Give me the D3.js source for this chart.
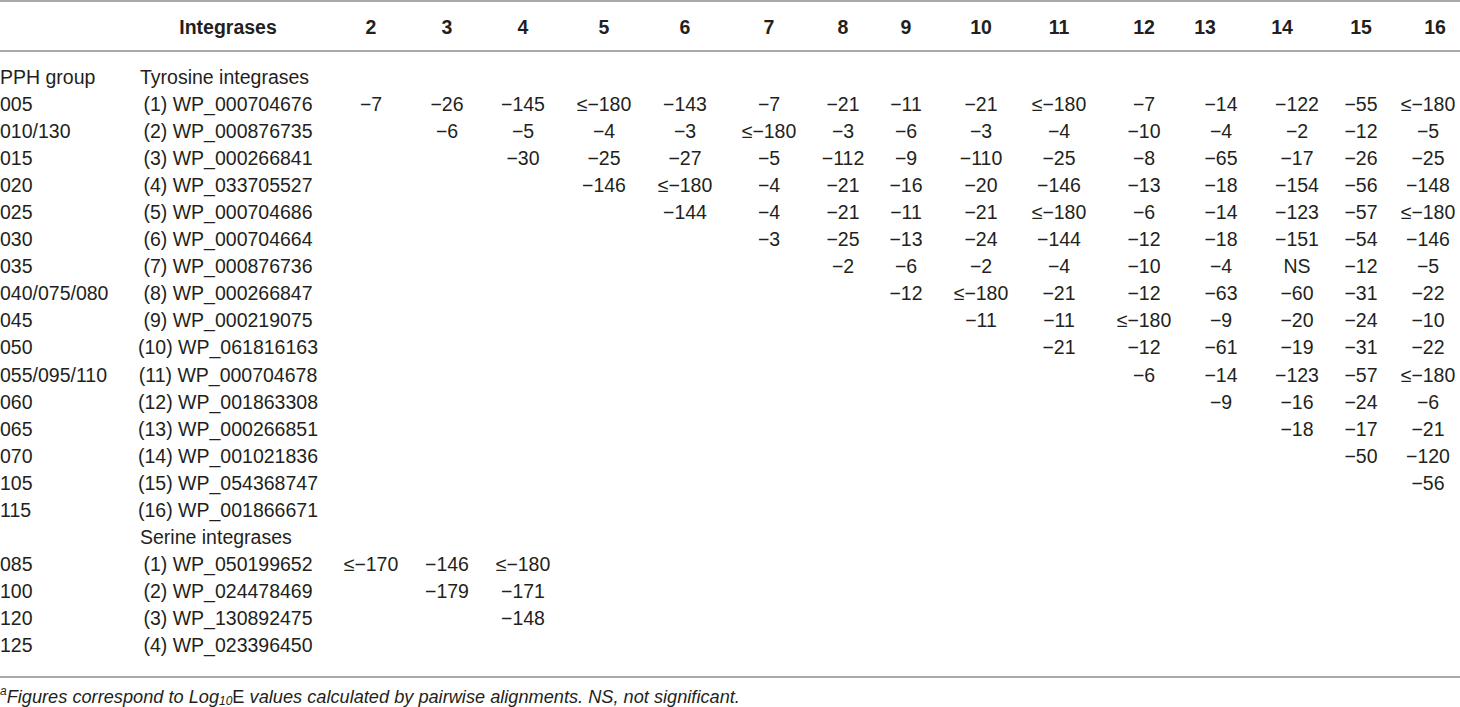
<!DOCTYPE html>
<html>
<head>
<meta charset="utf-8">
<script src="https://cdn.jsdelivr.net/npm/d3@7"></script>
<style>
  html, body { margin: 0; padding: 0; background: #fff; }
  svg { display: block; }
  text { font-family: "Liberation Sans", Arial, sans-serif; fill: #231f20; }
</style>
</head>
<body>
<div id="chart"></div>
<script>
// ---------- DATA ----------
const columnLabels = ["2","3","4","5","6","7","8","9","10","11","12","13","14","15","16"];

const tyrosineGroups = ["005","010/130","015","020","025","030","035","040/075/080","045","050","055/095/110","060","065","070","105","115"];
const tyrosineNames = ["(1) WP_000704676","(2) WP_000876735","(3) WP_000266841","(4) WP_033705527","(5) WP_000704686","(6) WP_000704664","(7) WP_000876736","(8) WP_000266847","(9) WP_000219075","(10) WP_061816163","(11) WP_000704678","(12) WP_001863308","(13) WP_000266851","(14) WP_001021836","(15) WP_054368747","(16) WP_001866671"];
// values for row i start at column (i+2)
const tyrosineValues = [
  [-7,-26,-145,"≤−180",-143,-7,-21,-11,-21,"≤−180",-7,-14,-122,-55,"≤−180"],
  [-6,-5,-4,-3,"≤−180",-3,-6,-3,-4,-10,-4,-2,-12,-5],
  [-30,-25,-27,-5,-112,-9,-110,-25,-8,-65,-17,-26,-25],
  [-146,"≤−180",-4,-21,-16,-20,-146,-13,-18,-154,-56,-148],
  [-144,-4,-21,-11,-21,"≤−180",-6,-14,-123,-57,"≤−180"],
  [-3,-25,-13,-24,-144,-12,-18,-151,-54,-146],
  [-2,-6,-2,-4,-10,-4,"NS",-12,-5],
  [-12,"≤−180",-21,-12,-63,-60,-31,-22],
  [-11,-11,"≤−180",-9,-20,-24,-10],
  [-21,-12,-61,-19,-31,-22],
  [-6,-14,-123,-57,"≤−180"],
  [-9,-16,-24,-6],
  [-18,-17,-21],
  [-50,-120],
  [-56],
  []
];

const serineGroups = ["085","100","120","125"];
const serineNames = ["(1) WP_050199652","(2) WP_024478469","(3) WP_130892475","(4) WP_023396450"];
const serineValues = [
  ["≤−170",-146,"≤−180"],
  [-179,-171],
  [-148],
  []
];

// ---------- LAYOUT ----------
const W = 1460, H = 707;
const valueCenters  = [371,447,523,604,685,769,843,906,981,1059,1144,1221,1297,1361,1428];
const headerCenters = [371,447,523,604,685,769,843,906,981,1059,1144,1205,1282,1361,1435];
const fontSize = 19.5;

// Build the row list
const rows = [];
rows.push({id:"h-tyr", group:"PPH group", name:"Tyrosine integrases", label:true, values:[], start:0});
tyrosineGroups.forEach((g,i)=>rows.push({id:"t"+i, group:g, name:tyrosineNames[i], values:tyrosineValues[i], start:i}));
rows.push({id:"h-ser", group:"", name:"Serine integrases", label:true, values:[], start:0});
serineGroups.forEach((g,i)=>rows.push({id:"s"+i, group:g, name:serineNames[i], values:serineValues[i], start:i}));

const y = d3.scalePoint().domain(rows.map(r=>r.id)).range([77, 645]);
const xVal = d3.scaleOrdinal().domain(columnLabels).range(valueCenters);
const xHead = d3.scaleOrdinal().domain(columnLabels).range(headerCenters);
const fmt = d3.format("d");

const svg = d3.select("#chart").append("svg").attr("width", W).attr("height", H);

// rules
const rule = (yy) => svg.append("line").attr("x1",0).attr("x2",W).attr("y1",yy).attr("y2",yy)
  .attr("stroke","#8c8c8c").attr("stroke-width",1.6);
rule(1);
rule(51);
rule(677);

// header
const head = svg.append("g").attr("font-weight","bold").attr("font-size",fontSize)
  .attr("text-anchor","middle").attr("dominant-baseline","central");
head.append("text").attr("x",228).attr("y",27).text("Integrases");
head.selectAll("text.col").data(columnLabels).join("text").attr("class","col")
  .attr("x",d=>xHead(d)).attr("y",27).text(d=>d);

// body
const body = svg.append("g").attr("font-size",fontSize).attr("dominant-baseline","central");
body.selectAll("text.grp").data(rows).join("text").attr("class","grp")
  .attr("x",0).attr("y",d=>y(d.id)).attr("dominant-baseline","central").text(d=>d.group);
body.selectAll("text.nm").data(rows).join("text").attr("class","nm")
  .attr("x",d=>d.label?140:228).attr("y",d=>y(d.id))
  .attr("text-anchor",d=>d.label?"start":"middle").attr("dominant-baseline","central")
  .text(d=>d.name);

const cells = [];
rows.forEach(r=>{
  r.values.forEach((v,j)=>{
    cells.push({row:r.id, col:columnLabels[r.start + j], v});
  });
});
body.selectAll("text.cell").data(cells).join("text").attr("class","cell")
  .attr("x",d=>xVal(d.col)).attr("y",d=>y(d.row))
  .attr("text-anchor","middle").attr("dominant-baseline","central")
  .text(d=>typeof d.v === "number" ? fmt(d.v) : d.v);

// footnote
const fn = svg.append("text").attr("x",0).attr("y",697).attr("dominant-baseline","central")
  .attr("font-size",18.2).attr("font-style","italic");
fn.append("tspan").attr("font-size",12).attr("dy",-6).text("a");
fn.append("tspan").attr("dy",6).text("Figures correspond to Log");
fn.append("tspan").attr("font-size",12).attr("dy",4).text("10");
fn.append("tspan").attr("dy",-4).attr("font-style","normal").text("E");
fn.append("tspan").text(" values calculated by pairwise alignments. NS, not significant.");
</script>
</body>
</html>
